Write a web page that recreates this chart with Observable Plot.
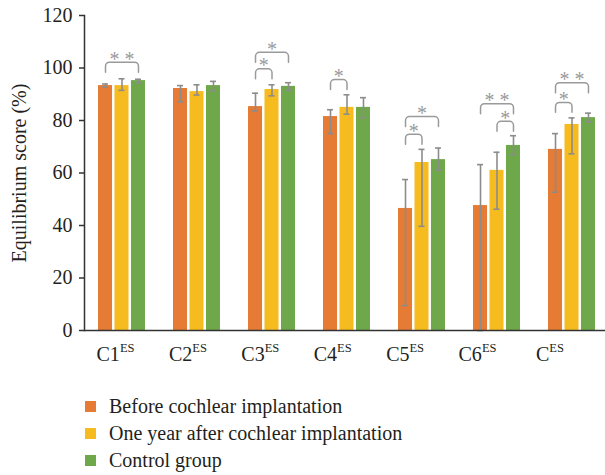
<!DOCTYPE html>
<html><head><meta charset="utf-8">
<script src="https://cdn.jsdelivr.net/npm/d3@7"></script>
<script src="https://cdn.jsdelivr.net/npm/@observablehq/plot@0.6"></script>
<style>
body{margin:0;background:#fff;font-family:"Liberation Serif","Times New Roman","DejaVu Serif",serif;}
#legend{padding-left:85px;margin-top:13px;}
.item{display:flex;align-items:center;height:27px;font-size:20px;color:#231f20;}
.sw{width:11px;height:11px;margin-right:13px;flex:none;}
</style></head><body>
<div id="chart"></div>
<div id="legend"></div>
<script>
// ---- data ----
const categories = ["C1","C2","C3","C4","C5","C6","C"];
const superscript = "ES";
const seriesNames = ["Before cochlear implantation","One year after cochlear implantation","Control group"];
const seriesColors = ["#E57B35","#F5BB1F","#6FA84A"];
const yTicks = [0,20,40,60,80,100,120];
const yLabel = "Equilibrium score (%)";

const beforeValue = [93.3, 92.2, 85.3, 81.5, 46.5, 47.6, 69.0];
const beforeLow   = [92.8, 87.1, 83.6, 75.0,  9.5,  0.0, 52.7];
const beforeHigh  = [93.9, 93.3, 90.4, 84.1, 57.5, 63.2, 75.0];
const afterValue  = [93.3, 91.0, 91.8, 85.0, 64.0, 61.0, 78.5];
const afterLow    = [91.5, 89.7, 89.4, 82.4, 39.7, 46.2, 67.3];
const afterHigh   = [95.9, 93.6, 93.6, 89.8, 69.0, 67.9, 81.0];
const controlValue= [95.2, 93.3, 93.0, 85.0, 65.1, 70.5, 81.1];
const controlLow  = [94.3, 91.3, 91.5, 81.0, 61.1, 67.0, 79.4];
const controlHigh = [95.7, 94.9, 94.4, 88.7, 69.5, 74.2, 82.8];

// significance brackets: group, from-series index, to-series index, level, label
const bracketGroup = ["C1","C3","C3","C4","C5","C5","C6","C6","C","C"];
const bracketFrom  = [0,0,0,0,0,0,0,1,0,0];
const bracketTo    = [2,2,1,1,2,1,2,2,2,1];
const bracketLevel = [102.2,106.0,99.7,95.6,81.5,74.8,86.4,79.7,94.4,86.9];
const bracketLabel = ["**","*","*","*","*","*","**","*","**","*"];

// ---- tables ----
const values = [beforeValue, afterValue, controlValue];
const lows = [beforeLow, afterLow, controlLow];
const highs = [beforeHigh, afterHigh, controlHigh];
const rows = categories.flatMap((c,i) => seriesNames.map((s,j) => ({cat:c, series:s, value:values[j][i], lo:lows[j][i], hi:highs[j][i]})));
const brackets = bracketGroup.map((g,k) => ({id:k, cat:g, from:bracketFrom[k], to:bracketTo[k], level:bracketLevel[k], label:bracketLabel[k].split("").join(" ")}));
const legLen = 3.8;
const bracketPts = brackets.flatMap(b => [
  {id:b.id, cat:b.cat, series:seriesNames[b.from], y:b.level - legLen},
  {id:b.id, cat:b.cat, series:seriesNames[b.from], y:b.level},
  {id:b.id, cat:b.cat, series:seriesNames[b.to], y:b.level},
  {id:b.id, cat:b.cat, series:seriesNames[b.to], y:b.level - legLen}
]);

function curveRounded(context) {
  let pts = [];
  return {
    areaStart(){}, areaEnd(){},
    lineStart(){ pts = []; },
    point(x, y){ pts.push([+x, +y]); },
    lineEnd(){
      if (!pts.length) return;
      context.moveTo(pts[0][0], pts[0][1]);
      for (let i = 1; i < pts.length - 1; i++) context.arcTo(pts[i][0], pts[i][1], pts[i+1][0], pts[i+1][1], 4);
      context.lineTo(pts[pts.length-1][0], pts[pts.length-1][1]);
    }
  };
}

const font = "'Liberation Serif', 'Times New Roman', 'DejaVu Serif', serif";
const grey = "#8c8c8c", bracketGrey = "#9a9a9a", axisColor = "#333";
const step = 75 / (3 - 0.15 + 2*0.85);

const chart = Plot.plot({
  width: 605, height: 380,
  marginLeft: 84, marginRight: -4, marginTop: 15, marginBottom: 50,
  style: {fontFamily: font, fontSize: "20px", color: "#231f20", background: "#fff"},
  fx: {domain: categories, padding: 0, axis: null, round: false, label: null},
  x: {domain: seriesNames, paddingInner: 0.15, paddingOuter: 0.85, axis: null, round: false},
  y: {domain: [0,120], axis: null},
  color: {domain: seriesNames, range: seriesColors},
  marks: [
    Plot.barY(rows, {fx:"cat", x:"series", y:"value", fill:"series"}),
    Plot.ruleX(rows, {fx:"cat", x:"series", y1:"lo", y2:"hi", stroke:grey, strokeWidth:1.6}),
    Plot.tickY(rows, {fx:"cat", x:"series", y:"lo", stroke:grey, strokeWidth:1.6, insetLeft:4, insetRight:4}),
    Plot.tickY(rows, {fx:"cat", x:"series", y:"hi", stroke:grey, strokeWidth:1.6, insetLeft:4, insetRight:4}),
    Plot.line(bracketPts, {fx:"cat", x:"series", y:"y", z:"id", stroke:bracketGrey, strokeWidth:1.5, curve:curveRounded}),
    Plot.text(brackets.filter(b => b.to - b.from === 2), {fx:"cat", x: () => seriesNames[1], y:"level", text:"label", fill:bracketGrey, fontSize:20, dy:-3}),
    Plot.text(brackets.filter(b => b.to - b.from === 1), {fx:"cat", x: b => seriesNames[b.from], y:"level", text:"label", fill:bracketGrey, fontSize:20, dy:-3, dx: step/2}),
    Plot.ruleY([0], {stroke:axisColor, strokeWidth:1.5}),
    Plot.frame({anchor:"left", facetAnchor:"left", stroke:axisColor, strokeWidth:1.5}),
    Plot.axisY({ticks: yTicks, tickSize:5, tickPadding:7, fontSize:20, label:null, stroke:axisColor, strokeWidth:1.5, fill:"#231f20"}),
    Plot.text([yLabel], {fx: () => categories[0], frameAnchor:"left", textAnchor:"middle", lineAnchor:"middle", rotate:-90, dx:-65, fontSize:20, fill:"#231f20"}),
    ...categories.map((c,i) => Plot.text([c], {fx: d => d, frameAnchor:"bottom", textAnchor:"middle", lineAnchor:"top", dy:16.5, dx: -6.5 - 2.6*i, fontSize:20, fill:"#231f20"}))
  ]
});
chart.style.fontFamily = font;

const catSet = new Set(categories);
d3.select(chart).selectAll("text").filter(function(){ return catSet.has(this.textContent); })
  .append("tspan").attr("dy", "-9").attr("font-size", "12.5px").text(superscript);

document.getElementById("chart").appendChild(chart);

const legend = d3.select("#legend");
seriesNames.forEach((s,j) => {
  const item = legend.append("div").attr("class","item");
  item.append("div").attr("class","sw").style("background", seriesColors[j]);
  item.append("span").text(s);
});
</script>
</body></html>
